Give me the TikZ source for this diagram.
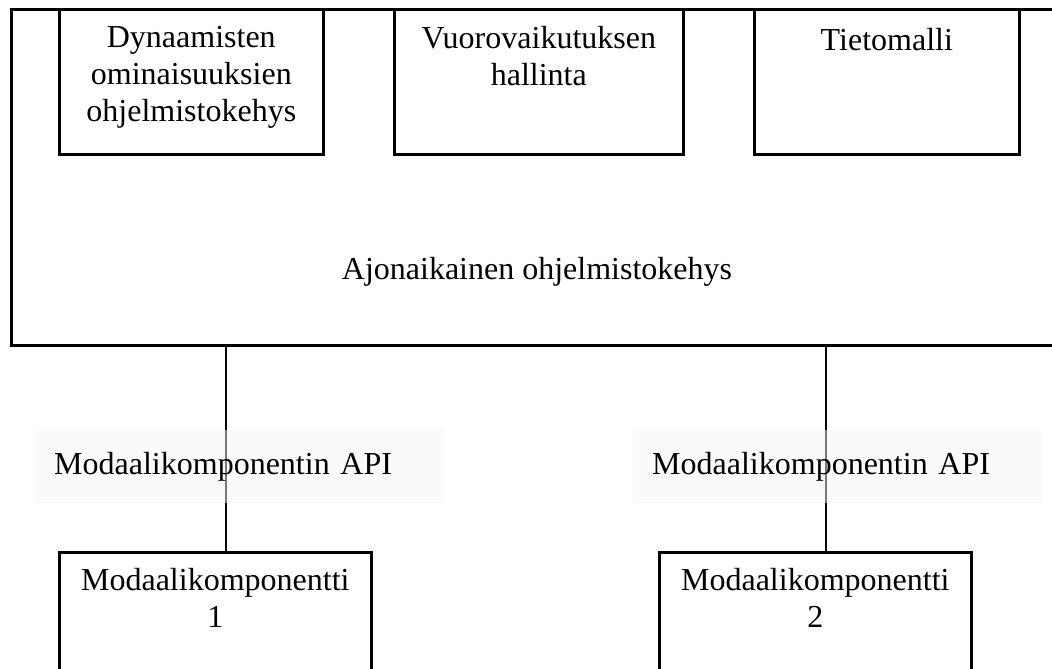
\documentclass[tikz,border=0pt]{standalone}
\usepackage{fontspec}
\setmainfont{Liberation Serif}
\begin{document}
\begin{tikzpicture}[x=1pt, y=-1pt,
  box/.style={draw=black, line width=2.6pt, rectangle, inner sep=0pt, anchor=north west},
  boxtext/.style={anchor=north, align=center, inner sep=0pt, font=\fontsize{32}{37}\selectfont},
  link/.style={draw=black, line width=2.6pt},
  apilabel/.style={rectangle, fill=black!4, fill opacity=0.5, text opacity=1, draw=none,
    minimum height=73pt, text width=370pt, inner xsep=19pt, inner ysep=0pt, align=left,
    anchor=north west, font=\fontsize{32}{37}\selectfont}]
  \useasboundingbox (0,0) rectangle (1052,669);
  \clip (0,0) rectangle (1052,669);

  % runtime framework, open to the right
  \node[box, minimum width=1050pt, minimum height=336pt] (runtime) at (10,8) {};
  \node[anchor=base, inner sep=0pt, font=\fontsize{32}{37}\selectfont] (runtimetext) at (537,279)
    {Ajonaikainen ohjelmistokehys};

  % top service boxes
  \node[box, minimum width=264pt, minimum height=145pt] (dyn) at (58,8) {};
  \node[boxtext] (dyntext) at ([yshift=-18pt]dyn.north)
    {Dynaamisten\\ominaisuuksien\\ohjelmistokehys};
  \node[box, minimum width=289pt, minimum height=145pt] (interact) at (393,8) {};
  \node[boxtext] (interacttext) at ([yshift=-18pt]interact.north)
    {Vuorovaikutuksen\\hallinta};
  \node[box, minimum width=265pt, minimum height=145pt] (model) at (753,8) {};
  \node[boxtext] (modeltext) at ([yshift=-20pt]model.north) {Tietomalli};

  % modality components
  \node[box, minimum width=312pt, minimum height=160pt] (mod1) at (58,551) {};
  \node[boxtext] (mod1text) at ([yshift=-17pt]mod1.north) {Modaalikomponentti\\1};
  \node[box, minimum width=312pt, minimum height=160pt] (mod2) at (658,551) {};
  \node[boxtext] (mod2text) at ([yshift=-17pt]mod2.north) {Modaalikomponentti\\2};

  % connection points on the runtime frame
  \coordinate (c1) at (226,344);
  \coordinate (c2) at (826,344);
  \draw[link] (c1) -- (c1 |- mod1.north);
  \draw[link] (c2) -- (c2 |- mod2.north);

  % API labels laid over the connectors
  \node[apilabel] (api1) at (35,430) {Modaalikomponentin API};
  \node[apilabel] (api2) at (633,430) {Modaalikomponentin API};
\end{tikzpicture}
\end{document}
